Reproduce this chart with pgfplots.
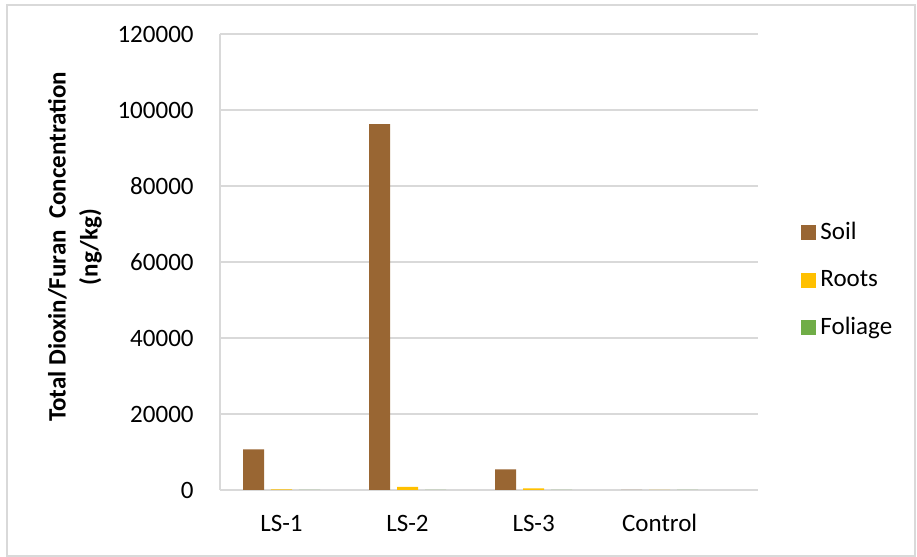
\documentclass[border=0pt]{standalone}
\usepackage{pgfplots}
\pgfplotsset{compat=1.18}
\usepackage{fontspec}
\setmainfont{Carlito}

\definecolor{soil}{HTML}{996633}
\definecolor{roots}{HTML}{FFC000}
\definecolor{foliage}{HTML}{70AD47}
\definecolor{gridgray}{HTML}{D9D9D9}

\begin{document}
\begin{tikzpicture}
\path[use as bounding box] (0,0) rectangle (458.5pt,278.5pt);
\draw[gridgray, line width=0.75pt] (3.5pt,0.5pt) rectangle (457.5pt,276pt);
\begin{axis}[
    at={(110pt,33.5pt)}, anchor=south west,
    scale only axis,
    width=269pt, height=228pt,
    ybar, bar width=0.167,
    xmin=-0.488, xmax=3.78,
    ymin=0, ymax=120000,
    ytick={0,20000,...,120000},
    xtick={0,1,2,3},
    xticklabels={LS-1,LS-2,LS-3,Control},
    scaled y ticks=false,
    /pgf/number format/.cd, fixed, 1000 sep={}, assume math mode=true,
    /pgfplots/.cd,
    major tick length=0,
    axis x line*=bottom, axis y line*=left,
    axis line style={gridgray, line width=0.75pt},
    ymajorgrids, grid style={gridgray, line width=0.75pt},
    ticklabel style={font=\fontsize{12.5}{15}\selectfont},
    yticklabel style={anchor=east, inner sep=0pt, xshift=-13pt},
    xticklabel style={anchor=base, inner sep=0pt, yshift=-20.8pt},
    ylabel={Total Dioxin/Furan\ \ Concentration\\(ng/kg)},
    every axis y label/.style={at={(axis description cs:-0.2695,0.533)}, rotate=90, anchor=center, align=center, font=\bfseries\fontsize{12.5}{16}\selectfont},
    legend style={at={(rel axis cs:1.08,0.4605)}, anchor=west, draw=none, fill=none, inner sep=0pt, row sep=10pt, font=\fontsize{12.5}{15}\selectfont, cells={anchor=west}},
    legend image code/.code={\fill (0pt,-3.75pt) rectangle (7.5pt,3.75pt);},
]
\addplot[fill=soil, draw=none, bar shift=-0.222] coordinates {(0,10700) (1,96300) (2,5400) (3,60)};
\addlegendentry{Soil}
\addplot[fill=roots, draw=none, bar shift=0] coordinates {(0,150) (1,800) (2,450) (3,20)};
\addlegendentry{Roots}
\addplot[fill=foliage, draw=none, bar shift=0.222] coordinates {(0,30) (1,40) (2,30) (3,10)};
\addlegendentry{Foliage}
\end{axis}
\end{tikzpicture}
\end{document}
